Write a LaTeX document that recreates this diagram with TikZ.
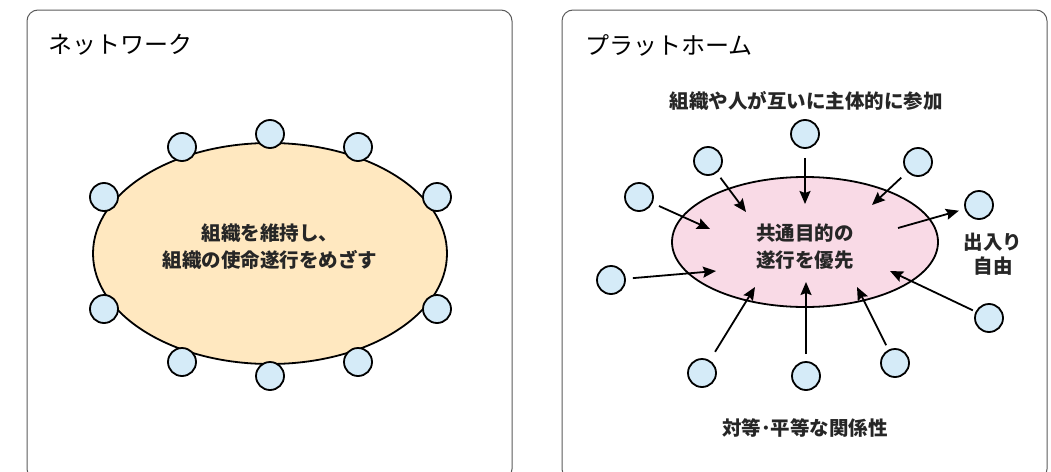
\documentclass[tikz,border=0pt]{standalone}
\usepackage{fontspec}
\setmainfont{Noto Sans CJK JP}
\usetikzlibrary{arrows.meta,shapes.geometric}
\definecolor{nodeblue}{HTML}{D5EBF8}
\definecolor{peach}{HTML}{FFE8C0}
\definecolor{pinkfill}{HTML}{F9DAE6}
\definecolor{panelline}{HTML}{5A5A5A}
\tikzset{
  panel/.style={draw=panelline, line width=1pt, rounded corners=11pt},
  person/.style={circle, draw=black, fill=nodeblue, line width=1.8pt, minimum size=28pt, inner sep=0pt},
  title/.style={anchor=west, font=\fontsize{24}{28}\selectfont, inner sep=0pt},
  label/.style={font=\bfseries\fontsize{19.5}{27}\selectfont, align=center, inner sep=0pt, text=black!85},
  arr/.style={line width=1.8pt, -{Stealth[length=13pt,width=11pt,inset=2pt]}, shorten <=7pt},
}
\begin{document}
\begin{tikzpicture}[x=1pt,y=-1pt]
\useasboundingbox (0,0) rectangle (1051,471);
% panels
\draw[panel] (27,10) rectangle (512,480);
\draw[panel] (562,10) rectangle (1047,480);
\node[title] (t1) at (48,45) {ネットワーク};
\node[title] (t2) at (585,45) {プラットホーム};
% left network
\node[ellipse, draw=black, fill=peach, line width=1.8pt, minimum width=354pt, minimum height=221pt, inner sep=0pt] (org) at (270,253.5) {};
\node[label] (orgtext) at (270,246.5) {組織を維持し、\\組織の使命遂行をめざす};
\node[person] (l1) at (270,134) {};
\node[person] (l2) at (182,147) {};
\node[person] (l3) at (358,147) {};
\node[person] (l4) at (104,197) {};
\node[person] (l5) at (437,197) {};
\node[person] (l6) at (104,309) {};
\node[person] (l7) at (437,309) {};
\node[person] (l8) at (182,362) {};
\node[person] (l9) at (358,362) {};
\node[person] (l10) at (270,376) {};
% right platform
\node[ellipse, draw=black, fill=pinkfill, line width=1.8pt, minimum width=266pt, minimum height=130pt, inner sep=0pt] (plat) at (805,242) {};
\node[label] (plattext) at (805,246.5) {共通目的の\\遂行を優先};
\node[label] (top) at (806,101) {組織や人が互いに主体的に参加};
\node[label, font=\bfseries\fontsize{19.5}{24}\selectfont] (free) at (993,254) {出入り\\自由};
\node[label] (bottom) at (805,428) {対等･平等な関係性};
\node[person] (r1) at (805,134) {};
\node[person] (r2) at (708,161) {};
\node[person] (r3) at (918,162) {};
\node[person] (r4) at (639,197) {};
\node[person] (r5) at (979,205) {};
\node[person] (r6) at (611,280) {};
\node[person] (r7) at (989,318) {};
\node[person] (r8) at (895,363) {};
\node[person] (r9) at (806,376) {};
\node[person] (r10) at (702,373) {};
% arrow tips
\coordinate (e1) at (805,204);
\coordinate (e2) at (746,212);
\coordinate (e3) at (872,205);
\coordinate (e4) at (710,229);
\coordinate (e6) at (716,271);
\coordinate (s5) at (898,228);
\coordinate (e7) at (890,271);
\coordinate (e8) at (857,287);
\coordinate (e9) at (806,282);
\coordinate (e10) at (755,287);
\draw[arr, shorten <=9pt] (r1) -- (e1);
\draw[arr, shorten <=6pt] (r2) -- (e2);
\draw[arr, shorten <=8pt] (r3) -- (e3);
\draw[arr] (r4) -- (e4);
\draw[arr] (r6) -- (e6);
\draw[arr, shorten <=0pt, shorten >=6pt] (s5) -- (r5);
\draw[arr, shorten <=3pt] (r7) -- (e7);
\draw[arr, shorten <=5pt] (r8) -- (e8);
\draw[arr] (r9) -- (e9);
\draw[arr, shorten <=10pt] (r10) -- (e10);
\end{tikzpicture}
\end{document}
